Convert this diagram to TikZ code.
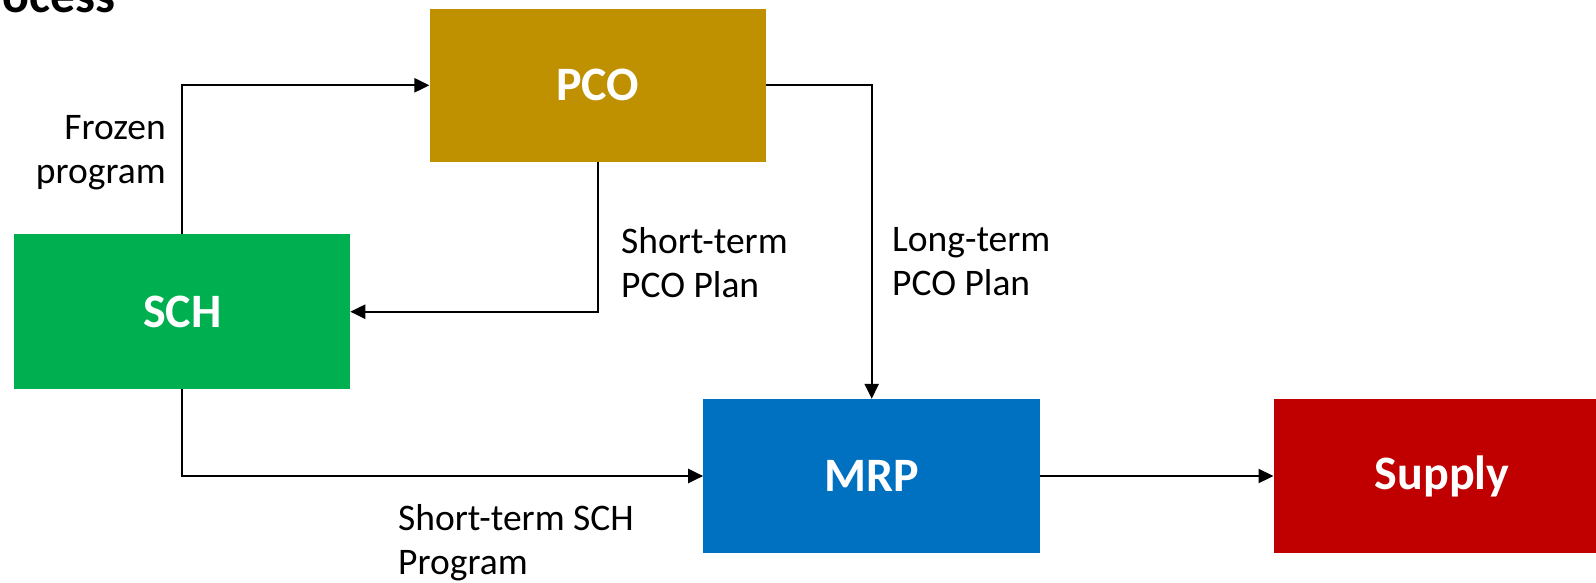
\documentclass[tikz,border=0pt]{standalone}
\usepackage{fontspec}
\setmainfont{Carlito}
\usetikzlibrary{arrows.meta}
\definecolor{pcogold}{HTML}{BF9000}
\definecolor{schgreen}{HTML}{00B050}
\definecolor{mrpblue}{HTML}{0070C0}
\definecolor{supplyred}{HTML}{C00000}
\tikzset{
  blockbox/.style={draw=none, inner sep=0pt, minimum width=336.5pt, minimum height=154pt,
    text=white, font=\fontsize{48}{57}\selectfont\bfseries},
  flow/.style={line width=2.2pt, -{Triangle[length=15pt,width=14pt]}},
  lbl/.style={inner sep=0pt, font=\fontsize{37.5}{44.5}\selectfont, align=left},
}
\begin{document}
\begin{tikzpicture}[x=1pt,y=-1pt]
\useasboundingbox (0,0) rectangle (1596,582);
\fill[white] (0,0) rectangle (1596,582);
% heading, partly beyond the left edge
\node[anchor=base west, inner sep=0pt, font=\fontsize{50}{60}\selectfont\bfseries] (title) at (-41,12) {Process};
% blocks
\node[blockbox, fill=pcogold, minimum height=152.6pt] (pco) at (597.9,85.3) {PCO};
\node[blockbox, fill=schgreen, minimum width=335.7pt, minimum height=154.6pt] (sch) at (182.2,311.7) {SCH};
\node[blockbox, fill=mrpblue, minimum width=336.7pt] (mrp) at (871.7,476) {MRP};
\node[blockbox, fill=supplyred, minimum width=336.7pt, anchor=west] (supply) at (1273.5,476) {Supply};
% connectors
\draw[flow] (sch.north) |- (pco.west);
\draw[flow] (pco.south) |- (sch.east);
\draw[flow] (pco.east) -| (mrp.north);
\draw[flow] (sch.south) |- (mrp.west);
\draw[flow] (mrp.east) -- (supply.west);
% labels
\node[lbl, align=right, anchor=north east] (lfrozen) at (166,115) {Frozen\\program};
\node[lbl, anchor=north west] (lstpco) at (621,227) {Short-term\\PCO Plan};
\node[lbl, anchor=north west] (lltpco) at (892,227) {Long-term\\PCO Plan};
\node[lbl, anchor=north west] (lstsch) at (398,504) {Short-term SCH\\Program};
\end{tikzpicture}
\end{document}
